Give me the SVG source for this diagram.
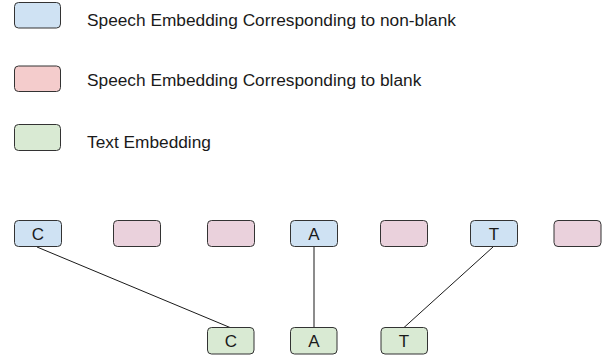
<svg xmlns="http://www.w3.org/2000/svg" width="610" height="358" viewBox="0 0 610 358">
<style>
rect{stroke:#333;stroke-width:1}
.b{fill:#cfe2f3}
.p{fill:#f4cccc}
.q{fill:#ead1dc}
.g{fill:#d9ead3}
text{font-family:"Liberation Sans",Arial,sans-serif;fill:#1a1a1a}
.lg{font-size:17.3px}
.lt{font-size:17px;text-anchor:middle}
.c{stroke:#1a1a1a;stroke-width:1;fill:none}
</style>
<rect width="610" height="358" fill="#fff" style="stroke:none"/>
<g id="legend-nonblank"><rect class="b" x="14.5" y="2.5" width="46" height="25.5" rx="4"/><text class="lg" x="87" y="25.5">Speech Embedding Corresponding to non-blank</text></g>
<g id="legend-blank"><rect class="p" x="14.5" y="66" width="46" height="25.5" rx="4"/><text class="lg" x="87" y="85.5">Speech Embedding Corresponding to blank</text></g>
<g id="legend-text"><rect class="g" x="14.5" y="124.5" width="46" height="26" rx="4"/><text class="lg" x="87" y="148">Text Embedding</text></g>
<g id="connectors">
<line class="c" x1="37" y1="247" x2="230" y2="327.5"/>
<line class="c" x1="314" y1="247" x2="314" y2="327.5" style="stroke:#666;stroke-width:1.5"/>
<line class="c" x1="493" y1="247" x2="404" y2="327.5"/>
</g>
<g id="s1"><rect class="b" x="14.5" y="220.5" width="47" height="26" rx="4"/><text class="lt" x="38" y="239.5">C</text></g>
<g id="s2"><rect class="q" x="113.5" y="220.5" width="47" height="26" rx="4"/></g>
<g id="s3"><rect class="q" x="207.5" y="220.5" width="47" height="26" rx="4"/></g>
<g id="s4"><rect class="b" x="290.5" y="220.5" width="47" height="26" rx="4"/><text class="lt" x="314" y="239.5">A</text></g>
<g id="s5"><rect class="q" x="380.5" y="220.5" width="47" height="26" rx="4"/></g>
<g id="s6"><rect class="b" x="470.5" y="220.5" width="47" height="26" rx="4"/><text class="lt" x="494" y="239.5">T</text></g>
<g id="s7"><rect class="q" x="554" y="220.5" width="47" height="26" rx="4"/></g>
<g id="t1"><rect class="g" x="207.5" y="327.5" width="46.5" height="26.5" rx="4"/><text class="lt" x="231" y="347">C</text></g>
<g id="t2"><rect class="g" x="290.5" y="327.5" width="46.5" height="26.5" rx="4"/><text class="lt" x="314" y="347">A</text></g>
<g id="t3"><rect class="g" x="381" y="327.5" width="46.5" height="26.5" rx="4"/><text class="lt" x="404" y="347">T</text></g>
</svg>
